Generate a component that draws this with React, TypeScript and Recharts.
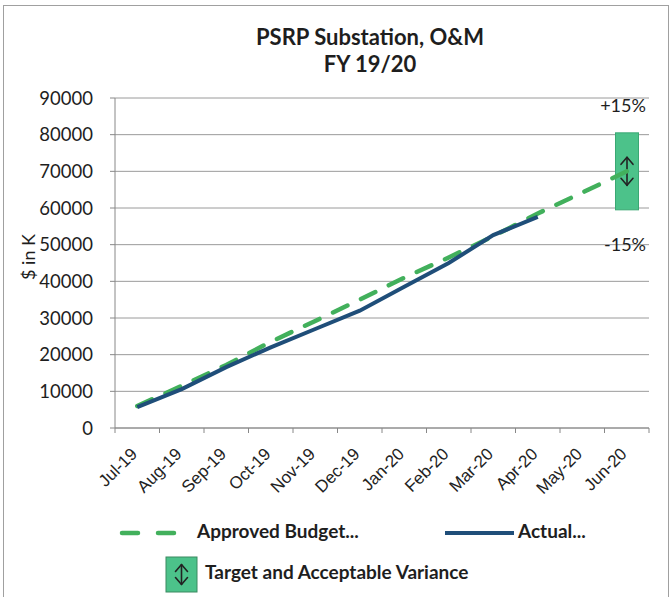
import React from 'react';
import { ComposedChart, Line, Bar, XAxis, YAxis, CartesianGrid } from 'recharts';

const months = ['Jul-19', 'Aug-19', 'Sep-19', 'Oct-19', 'Nov-19', 'Dec-19', 'Jan-20', 'Feb-20', 'Mar-20', 'Apr-20', 'May-20', 'Jun-20'];
const approvedBudget = [6000, 11500, 17200, 23500, 29200, 35000, 41000, 46500, 52300, 58500, 64200, 70000];
const actual = [5700, 10600, 16600, 22000, 27000, 32000, 38500, 45000, 52600, 57600, null, null];
const varianceLow = [null, null, null, null, null, null, null, null, null, null, null, 59500];
const varianceHigh = [null, null, null, null, null, null, null, null, null, null, null, 80500];
const yTicks = [0, 10000, 20000, 30000, 40000, 50000, 60000, 70000, 80000, 90000];

const data = months.map((month, i) => ({
  month,
  budget: approvedBudget[i],
  actual: actual[i],
  variance: varianceLow[i] != null ? [varianceLow[i], varianceHigh[i]] : null,
}));

const W = 670;
const H = 597;
const PLOT_LEFT = 115;
const PLOT_RIGHT = 649;
const BAND = (PLOT_RIGHT - PLOT_LEFT) / months.length;
const BUDGET_GREEN = '#42b05c';
const ACTUAL_BLUE = '#1f4e79';
const BOX_GREEN = '#4cc28a';
const TEXT = '#1e1e1e';
const FONT = 'Lato, "Noto Sans", sans-serif';

function Arrow({ cx, cy, half }: { cx: number; cy: number; half: number }) {
  return (
    <g stroke="#222" strokeWidth={1.6} fill="none" strokeLinecap="round" strokeLinejoin="round">
      <line x1={cx} y1={cy - half} x2={cx} y2={cy + half} />
      <polyline points={`${cx - 6},${cy - half + 7} ${cx},${cy - half} ${cx + 6},${cy - half + 7}`} />
      <polyline points={`${cx - 6},${cy + half - 7} ${cx},${cy + half} ${cx + 6},${cy + half - 7}`} />
    </g>
  );
}

function VarianceBox(props: any) {
  const { x, y, width, height } = props;
  if (!height) return null;
  const cx = x + width / 2;
  const cy = y + height / 2;
  return (
    <g>
      <rect x={x} y={y} width={width} height={height} fill={BOX_GREEN} stroke="#3aa873" strokeWidth={1} />
      <Arrow cx={cx} cy={cy} half={14} />
      <text x={cx - 4} y={y - 21} textAnchor="middle" fontSize={18} fontFamily={FONT} fill={TEXT}>+15%</text>
      <text x={cx - 2} y={y + height + 41} textAnchor="middle" fontSize={18} fontFamily={FONT} fill={TEXT}>-15%</text>
    </g>
  );
}

function MonthTick(props: any) {
  const { x, y, payload, index } = props;
  const ax = x + 1;
  const ay = y + 27;
  return (
    <g>
      <line x1={x - BAND / 2} y1={y} x2={x - BAND / 2} y2={y + 5} stroke="#888" />
      {index === months.length - 1 && <line x1={x + BAND / 2} y1={y} x2={x + BAND / 2} y2={y + 5} stroke="#888" />}
      <text
        x={ax}
        y={ay}
        transform={`rotate(-45 ${ax} ${ay})`}
        textAnchor="end"
        fontSize={17}
        fontFamily='"Liberation Sans", Arial, sans-serif'
        fill="#222"
      >
        {payload.value}
      </text>
    </g>
  );
}

export default function App() {
  const titleStyle: React.CSSProperties = {
    position: 'absolute', left: 0, width: 740, textAlign: 'center',
    fontSize: 22, fontWeight: 700, color: TEXT, lineHeight: '27px', whiteSpace: 'nowrap',
  };
  return (
    <div style={{ position: 'absolute', left: 0, top: 0, width: W, height: H, background: '#fff', fontFamily: FONT }}>
      <div style={{ position: 'absolute', left: 3, top: 5, width: 664, height: 600, border: '1px solid #a0a0a0' }} />
      <div style={{ ...titleStyle, top: 23 }}>PSRP Substation, O&amp;M</div>
      <div style={{ ...titleStyle, top: 50 }}>FY 19/20</div>
      <div style={{ position: 'absolute', left: 0, top: 0 }}>
        <ComposedChart width={W} height={H} data={data} margin={{ top: 98, right: W - PLOT_RIGHT, bottom: 0, left: 0 }}>
          <CartesianGrid vertical={false} stroke="#9a9a9a" strokeWidth={1} />
          <XAxis
            dataKey="month"
            height={H - 428}
            tickSize={0}
            tickMargin={0}
            tickLine={false}
            axisLine={{ stroke: '#888' }}
            tick={<MonthTick />}
            interval={0}
          />
          <YAxis
            domain={[0, 90000]}
            ticks={yTicks}
            width={PLOT_LEFT}
            tickSize={5}
            tickMargin={17}
            axisLine={{ stroke: '#888' }}
            tickLine={{ stroke: '#888' }}
            tick={{ fontSize: 18.5, fontFamily: FONT, fill: TEXT }}
          />
          <Bar dataKey="variance" barSize={23} shape={<VarianceBox />} isAnimationActive={false} />
          <Line
            type="linear"
            dataKey="budget"
            stroke={BUDGET_GREEN}
            strokeWidth={4.5}
            strokeDasharray="16 15"
            strokeLinecap="round"
            dot={false}
            isAnimationActive={false}
          />
          <Line
            type="linear"
            dataKey="actual"
            stroke={ACTUAL_BLUE}
            strokeWidth={4}
            dot={false}
            isAnimationActive={false}
          />
        </ComposedChart>
      </div>
      {/* axis title and legend */}
      <div style={{ position: 'absolute', left: 0, top: 0, width: W, height: H, pointerEvents: 'none' }}>
        <svg width={W} height={H} style={{ position: 'absolute', left: 0, top: 0 }}>
          <text x={35} y={257} transform="rotate(-90 35 257)" textAnchor="middle" fontSize={18} fontFamily={FONT} fill={TEXT}>$ in K</text>
          <line x1={122} y1={533} x2={178} y2={533} stroke={BUDGET_GREEN} strokeWidth={4.5} strokeDasharray="16 20" strokeLinecap="round" />
          <line x1={445} y1={533} x2={514} y2={533} stroke={ACTUAL_BLUE} strokeWidth={4} />
          <rect x={166} y={557} width={31} height={35} fill={BOX_GREEN} stroke="#3a8a60" strokeWidth={1} />
          <Arrow cx={181.5} cy={574.5} half={10} />
        </svg>
        <div style={{ position: 'absolute', left: 197, top: 519, fontSize: 19, fontWeight: 700, color: TEXT }}>Approved Budget...</div>
        <div style={{ position: 'absolute', left: 518, top: 519, fontSize: 19, fontWeight: 700, color: TEXT }}>Actual...</div>
        <div style={{ position: 'absolute', left: 205, top: 560, fontSize: 19, fontWeight: 700, color: TEXT }}>Target and Acceptable Variance</div>
      </div>
    </div>
  );
}
